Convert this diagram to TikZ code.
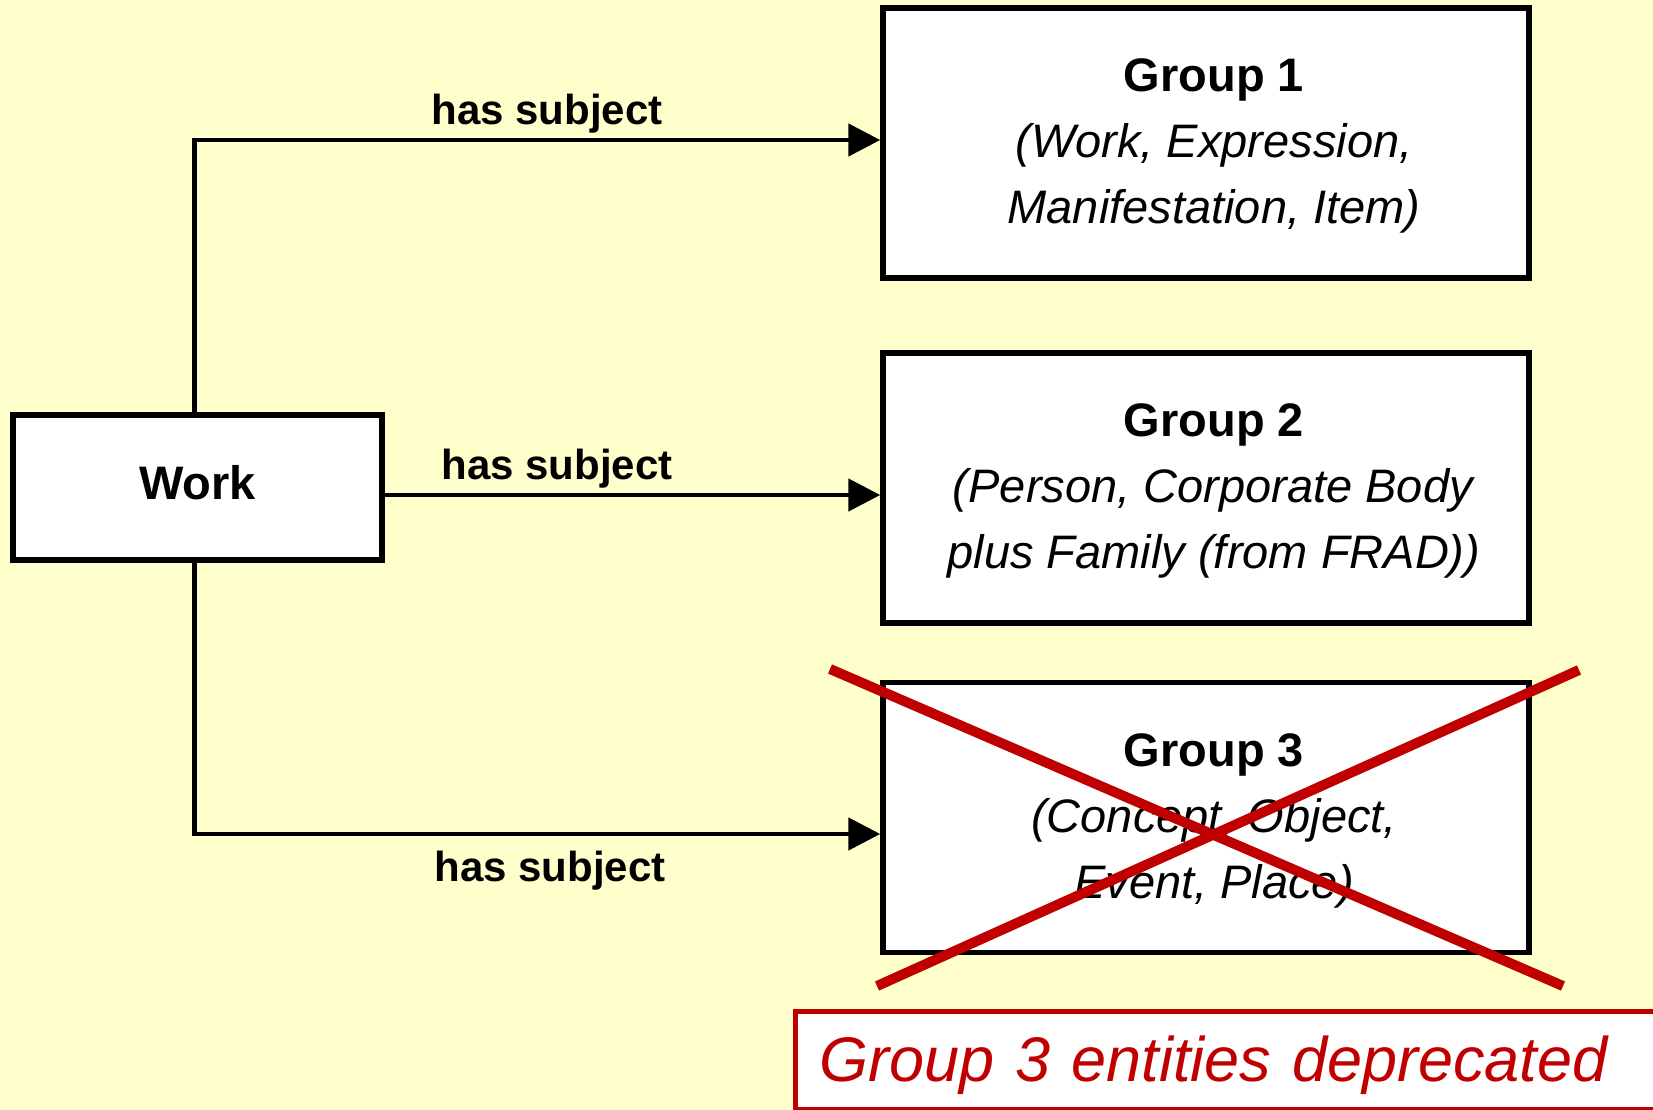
\documentclass[tikz,border=0pt]{standalone}
\usepackage{fontspec}
\setmainfont{Liberation Sans}
\usetikzlibrary{arrows.meta}
\definecolor{bgyellow}{HTML}{FFFFCC}
\definecolor{xred}{HTML}{C00000}
\begin{document}
\begin{tikzpicture}[x=1pt,y=-1pt,
  gbox/.style={draw=black, line width=5.5pt, fill=white, minimum width=646pt, minimum height=270pt, inner sep=0pt},
  gtext/.style={align=center, inner sep=0pt, font=\fontsize{47}{66}\selectfont},
  wbox/.style={draw=black, line width=5.5pt, fill=white, minimum width=369pt, minimum height=145pt, inner sep=0pt, text depth=10pt, font=\bfseries\fontsize{47}{56}\selectfont},
  conn/.style={draw=black, line width=4.8pt, -{Triangle[length=32pt, width=32pt]}},
  lbl/.style={font=\bfseries\fontsize{42}{50}\selectfont, inner sep=0pt},
  xline/.style={draw=xred, line width=10pt},
  depbox/.style={draw=xred, line width=5pt, fill=white, minimum height=98pt, inner xsep=24pt, text width=834pt, align=left, text depth=4pt, text=xred, font=\itshape\fontsize{63}{70}\selectfont}
]
\fill[bgyellow] (0,0) rectangle (1653,1110);
\useasboundingbox (0,0) rectangle (1653,1110);

\node[wbox] (work) at (197.5,487.5) {Work};
\node[gbox] (g1) at (1206,143) {};
\node[gbox] (g2) at (1206,488) {};
\node[gbox] (g3) at (1206,817.5) {};
\node[gtext] (g1t) at ([xshift=8pt,yshift=-3pt]g1.center) {\textbf{Group 1}\\\textit{(Work, Expression,}\\\textit{Manifestation, Item)}};
\node[gtext] (g2t) at ([xshift=8pt,yshift=-3pt]g2.center) {\textbf{Group 2}\\\textit{(Person, Corporate Body}\\\textit{plus Family (from FRAD))}};
\node[gtext] (g3t) at ([xshift=8pt,yshift=-3pt]g3.center) {\textbf{Group 3}\\\textit{(Concept, Object,}\\\textit{Event, Place)}};

\draw[conn] ([xshift=-3pt]work.north) |- ([yshift=3pt]g1.west);
\draw[conn] ([yshift=-7.5pt]work.east) -- ([yshift=-7.5pt]work.east -| g2.west);
\draw[conn] ([xshift=-3pt]work.south) |- ([yshift=-16.5pt]g3.west);

\node[lbl] (l1) at (547,114) {has subject};
\node[lbl] (l2) at (557,469) {has subject};
\node[lbl] (l3) at (550,871) {has subject};

\draw[xline] (830,669) -- (1563,986);
\draw[xline] (1579,670) -- (877,986);

\node[depbox, anchor=north west] (dep) at (793,1009) {Group 3 entities deprecated};
\end{tikzpicture}
\end{document}
